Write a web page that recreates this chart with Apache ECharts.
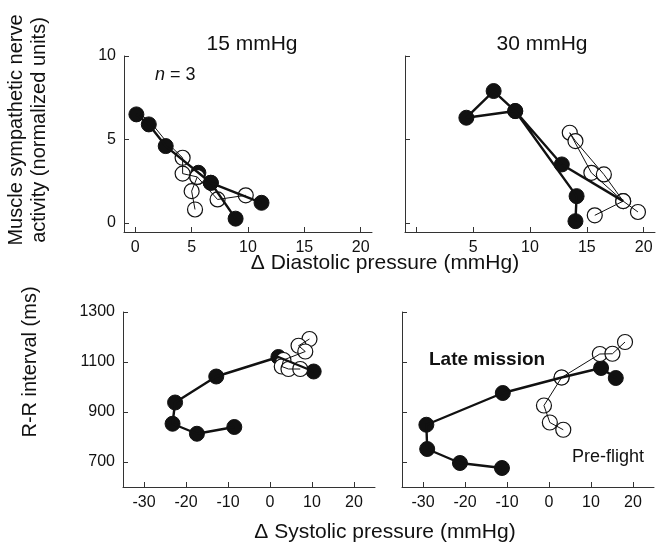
<!DOCTYPE html>
<html>
<head>
<meta charset="utf-8">
<script src="https://cdn.jsdelivr.net/npm/echarts@6/dist/echarts.min.js"></script>
<style>
  html, body { margin: 0; padding: 0; background: #fff; }
  #chart { width: 661px; height: 550px; }
</style>
</head>
<body>
<div id="chart"></div>
<script>
// ---- data ----
// top row: MSNA (normalized units) vs delta diastolic pressure (mmHg)
var dia15LateA = [[8.9, 0.25], [6.7, 2.4], [5.6, 3.0], [2.7, 4.6], [1.2, 5.9], [0.1, 6.5]];
var dia15LateB = [[6.7, 2.4], [11.2, 1.2]];
var dia15PreLead = [[0.3, 6.6], [1.4, 6.0], [2.9, 4.75], [4.2, 3.9]]; // thin line running beside the filled one
var dia15PreA = [[4.2, 3.9], [4.2, 2.95], [5.5, 2.75], [5.0, 1.9], [5.3, 0.8]];
var dia15PreB = [[5.5, 2.75], [7.3, 1.4], [9.8, 1.65]];

var dia30LateA = [[14.0, 0.1], [14.1, 1.6], [8.7, 6.7], [4.4, 6.3], [6.8, 7.9], [8.7, 6.7], [12.8, 3.5]];
var dia30LateLink = [[12.8, 3.5], [18.2, 1.3]];
var dia30Pre = [[15.7, 0.45], [18.2, 1.3], [15.4, 3.0], [13.5, 5.4], [14.0, 4.9], [16.5, 2.9], [18.2, 1.3], [19.5, 0.65]];

// bottom row: R-R interval (ms) vs delta systolic pressure (mmHg)
var sys15Late = [[-8.5, 840], [-17.4, 813], [-23.2, 853], [-22.6, 938], [-12.8, 1042], [2.0, 1120], [10.4, 1062]];
var sys15Pre = [[9.4, 1192], [6.8, 1165], [8.4, 1142], [3.2, 1108], [2.8, 1082], [4.4, 1072], [7.2, 1072]];

var sys30Late = [[-11.2, 676], [-21.2, 696], [-29.0, 752], [-29.2, 849], [-11.0, 976], [3.0, 1038], [12.4, 1076], [15.9, 1036]];
var sys30Pre = [[3.4, 829], [0.2, 858], [-1.2, 926], [3.0, 1038], [12.1, 1132], [15.1, 1133], [18.1, 1180]];

// ticks / labels
var msnaTicks = [0, 5, 10];
var diaTicks = [0, 5, 10, 15, 20];
var diaLabelsRight = [5, 10, 15, 20];
var rrTicks = [700, 900, 1100, 1300];
var sysTicks = [-30, -20, -10, 0, 10, 20];

var FONT = "'Liberation Sans', Arial, sans-serif";

var myChart = echarts.init(document.getElementById('chart'));

function axis(grid, min, max, ticks, labels) {
    return {
        type: 'value',
        gridIndex: grid,
        min: min,
        max: max,
        axisLine: { show: true, onZero: false, lineStyle: { color: '#333', width: 1 } },
        axisTick: { show: true, inside: true, length: 5, customValues: ticks, lineStyle: { color: '#333' } },
        axisLabel: {
            show: labels.length > 0,
            customValues: labels,
            formatter: function (v) { return String(v); },
            color: '#111',
            fontSize: 16,
            fontFamily: FONT,
            margin: 8
        },
        splitLine: { show: false }
    };
}

function path(data, idx, width) {
    return {
        type: 'line',
        xAxisIndex: idx,
        yAxisIndex: idx,
        data: data,
        showSymbol: false,
        symbol: 'none',
        silent: true,
        animation: false,
        lineStyle: { color: '#111', width: width, opacity: 1 }
    };
}

function dots(data, idx, filled) {
    return {
        type: 'scatter',
        xAxisIndex: idx,
        yAxisIndex: idx,
        data: data,
        symbolSize: 15,
        animation: false,
        itemStyle: filled
            ? { color: '#111', borderColor: '#111', borderWidth: 1, opacity: 1 }
            : { color: '#fff', borderColor: '#111', borderWidth: 1.2, opacity: 1 }
    };
}

var option = {
    backgroundColor: '#fff',
    animation: false,
    grid: [
        { left: 124, top: 56, width: 248, height: 176 },
        { left: 405, top: 56, width: 250, height: 176 },
        { left: 123, top: 312, width: 252, height: 175 },
        { left: 402, top: 312, width: 252, height: 175 }
    ],
    xAxis: [
        axis(0, -1, 21, diaTicks, diaTicks),
        axis(1, -1, 21, diaTicks, diaLabelsRight),
        axis(2, -35, 25, sysTicks, sysTicks),
        axis(3, -35, 25, sysTicks, sysTicks)
    ],
    yAxis: [
        axis(0, -0.55, 10, msnaTicks, msnaTicks),
        axis(1, -0.55, 10, msnaTicks, []),
        axis(2, 600, 1300, rrTicks, rrTicks),
        axis(3, 600, 1300, rrTicks, [])
    ],
    series: [
        // filled (late mission) lines
        path(dia15LateA, 0, 2.4),
        path(dia15LateB, 0, 2.4),
        path(dia30LateA, 1, 2.4),
        path(dia30LateLink, 1, 2.4),
        path(sys15Late, 2, 2.4),
        path(sys30Late, 3, 2.4),
        // open (pre-flight) lines
        path(dia15PreLead, 0, 1),
        path(dia15PreA, 0, 1),
        path(dia15PreB, 0, 1),
        path(dia30Pre, 1, 1),
        path(sys15Pre, 2, 1),
        path(sys30Pre, 3, 1),
        // markers
        dots(dia15LateA.concat(dia15LateB), 0, true),
        dots(dia30LateA, 1, true),
        dots(sys15Late, 2, true),
        dots(sys30Late, 3, true),
        dots(dia15PreA.concat(dia15PreB), 0, false),
        dots(dia30Pre, 1, false),
        dots(sys15Pre, 2, false),
        dots(sys30Pre, 3, false)
    ],
    graphic: [
        { type: 'text', x: 252, y: 44, style: { text: '15 mmHg', font: '21px ' + FONT, fill: '#111', align: 'center', verticalAlign: 'middle' } },
        { type: 'text', x: 542, y: 44, style: { text: '30 mmHg', font: '21px ' + FONT, fill: '#111', align: 'center', verticalAlign: 'middle' } },
        {
            type: 'text', x: 155, y: 75,
            style: {
                text: '{i|n} = 3', fill: '#111', verticalAlign: 'middle',
                font: '18px ' + FONT,
                rich: { i: { fontStyle: 'italic', fontSize: 18, fontFamily: FONT, fill: '#111' } }
            }
        },
        {
            type: 'text', x: 28, y: 130, rotation: Math.PI / 2,
            style: {
                text: 'Muscle sympathetic nerve\nactivity (normalized units)',
                font: '20px ' + FONT, fill: '#111', align: 'center', verticalAlign: 'middle', lineHeight: 23
            }
        },
        {
            type: 'text', x: 30, y: 362, rotation: Math.PI / 2,
            style: { text: 'R-R interval (ms)', font: '20px ' + FONT, fill: '#111', align: 'center', verticalAlign: 'middle' }
        },
        { type: 'text', x: 385, y: 263, style: { text: '\u0394 Diastolic pressure (mmHg)', font: '21px ' + FONT, fill: '#111', align: 'center', verticalAlign: 'middle' } },
        { type: 'text', x: 385, y: 532, style: { text: '\u0394 Systolic pressure (mmHg)', font: '21px ' + FONT, fill: '#111', align: 'center', verticalAlign: 'middle' } },
        { type: 'text', x: 429, y: 360, style: { text: 'Late mission', font: 'bold 19px ' + FONT, fill: '#111', verticalAlign: 'middle' } },
        { type: 'text', x: 572, y: 457, style: { text: 'Pre-flight', font: '18px ' + FONT, fill: '#111', verticalAlign: 'middle' } }
    ]
};

myChart.setOption(option);
</script>
</body>
</html>
